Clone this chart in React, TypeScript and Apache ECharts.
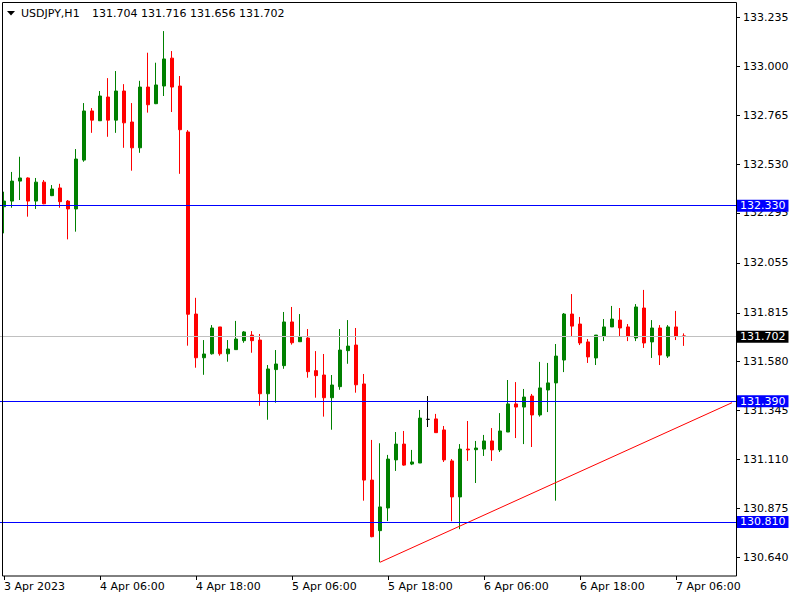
import React, { useEffect, useRef } from 'react';
import * as echarts from 'echarts';

// ---- data (USDJPY H1, first bar = 3 Apr 2023 18:00) ----
const openP = [
  132.325, 132.352, 132.448, 132.463, 132.352, 132.443, 132.378, 132.415, 132.352, 132.314,
  132.549, 132.785, 132.738, 132.852, 132.741, 132.881, 132.732, 132.608, 132.900, 132.820,
  132.905, 133.039, 132.905, 132.684, 131.809, 131.599, 131.618, 131.747, 131.618, 131.638,
  131.681, 131.708, 131.684, 131.426, 131.542, 131.561, 131.771, 131.676, 131.694, 131.537,
  131.516, 131.407, 131.460, 131.633, 131.660, 131.473, 131.011, 130.768, 130.877, 131.108,
  131.184, 131.088, 131.093, 131.303, 131.305, 131.252, 131.103, 130.930, 131.160, 131.157,
  131.160, 131.199, 131.156, 131.242, 131.377, 131.362, 131.415, 131.324, 131.444, 131.478,
  131.588, 131.809, 131.761, 131.675, 131.598, 131.703, 131.747, 131.780, 131.747, 131.694,
  131.838, 131.675, 131.742, 131.607, 131.747, 131.704,
];
const highP = [
  132.397, 132.492, 132.565, 132.466, 132.463, 132.453, 132.429, 132.435, 132.357, 132.602,
  132.823, 132.799, 132.881, 132.943, 132.977, 132.914, 132.823, 132.930, 133.065, 133.017,
  133.169, 133.073, 132.953, 132.693, 131.887, 131.684, 131.756, 131.747, 131.684, 131.776,
  131.727, 131.727, 131.713, 131.564, 131.636, 131.819, 131.843, 131.809, 131.737, 131.631,
  131.617, 131.516, 131.737, 131.780, 131.742, 131.521, 131.204, 131.188, 131.132, 131.242,
  131.247, 131.156, 131.348, 131.415, 131.329, 131.271, 131.112, 131.184, 131.295, 131.199,
  131.228, 131.261, 131.333, 131.492, 131.482, 131.449, 131.425, 131.579, 131.574, 131.665,
  131.814, 131.905, 131.795, 131.689, 131.708, 131.785, 131.848, 131.838, 131.761, 131.857,
  131.925, 131.780, 131.756, 131.756, 131.824, 131.716,
];
const lowP = [
  132.197, 132.320, 132.357, 132.277, 132.314, 132.337, 132.376, 132.320, 132.168, 132.205,
  132.541, 132.680, 132.737, 132.661, 132.680, 132.608, 132.498, 132.584, 132.777, 132.818,
  132.857, 132.780, 132.483, 131.657, 131.551, 131.517, 131.614, 131.609, 131.580, 131.638,
  131.671, 131.623, 131.368, 131.301, 131.383, 131.546, 131.662, 131.676, 131.503, 131.407,
  131.316, 131.253, 131.445, 131.570, 131.431, 130.912, 130.736, 130.616, 130.814, 131.055,
  131.080, 131.083, 131.093, 131.266, 131.239, 131.098, 130.813, 130.775, 131.103, 130.997,
  131.127, 131.103, 131.146, 131.242, 131.213, 131.184, 131.170, 131.316, 131.338, 130.912,
  131.530, 131.699, 131.660, 131.574, 131.564, 131.679, 131.747, 131.703, 131.679, 131.679,
  131.646, 131.598, 131.564, 131.598, 131.684, 131.656,
];
const closeP = [
  132.352, 132.448, 132.463, 132.352, 132.443, 132.339, 132.410, 132.349, 132.314, 132.554,
  132.785, 132.741, 132.857, 132.741, 132.881, 132.728, 132.608, 132.900, 132.815, 132.910,
  133.035, 132.900, 132.695, 131.808, 131.599, 131.617, 131.742, 131.618, 131.641, 131.689,
  131.723, 131.681, 131.426, 131.545, 131.569, 131.771, 131.671, 131.699, 131.532, 131.513,
  131.407, 131.468, 131.636, 131.655, 131.469, 131.011, 130.739, 130.882, 131.112, 131.184,
  131.083, 131.098, 131.309, 131.303, 131.239, 131.108, 130.930, 131.160, 131.156, 131.165,
  131.199, 131.156, 131.247, 131.377, 131.362, 131.410, 131.324, 131.454, 131.478, 131.607,
  131.809, 131.751, 131.670, 131.603, 131.708, 131.747, 131.785, 131.742, 131.703, 131.843,
  131.670, 131.742, 131.612, 131.747, 131.703, 131.702,
];

const slotCount = 92; // bars + empty right shift
const tickIndex = [0, 12, 24, 36, 48, 60, 72, 84];
const tickText = ['3 Apr 2023', '4 Apr 06:00', '4 Apr 18:00', '5 Apr 06:00', '5 Apr 18:00', '6 Apr 06:00', '6 Apr 18:00', '7 Apr 06:00'];
const yTicks = [133.235, 133.0, 132.765, 132.53, 132.295, 132.055, 131.815, 131.58, 131.345, 131.11, 130.875, 130.64];
const hLevels = [132.33, 131.39, 130.81];
const trendIdx = [47, 91];
const trendPrice = [130.616, 131.383];
const symbolName = 'USDJPY,H1';

const categories: string[] = [];
for (let i = 0; i < slotCount; i++) {
  const h = 18 + i;
  const day = 3 + Math.floor(h / 24);
  const hh = h % 24;
  categories.push(`${day} Apr ${hh < 10 ? '0' : ''}${hh}:00`);
}

const FONT = 'DejaVu Sans';

export default function App() {
  const ref = useRef<HTMLDivElement>(null);
  useEffect(() => {
    if (!ref.current) return;
    const chart = echarts.init(ref.current, null, { renderer: 'svg' });
    const last = openP.length - 1;
    const candleData = openP.map((o, i) => [o, closeP[i], lowP[i], highP[i]]);
    const lvlLabel = (bg: string) => ({
      show: true,
      position: 'end',
      distance: 1,
      backgroundColor: bg,
      color: '#ffffff',
      padding: [1, 3, 0, 3],
      fontSize: 11,
      fontFamily: FONT,
    });
    chart.setOption({
      animation: false,
      backgroundColor: '#ffffff',
      textStyle: { fontFamily: FONT },
      grid: { left: -1, right: 64, top: 3, bottom: 24 },
      xAxis: {
        type: 'category',
        data: categories,
        boundaryGap: true,
        axisLine: { show: false },
        axisTick: {
          show: true,
          alignWithLabel: true,
          length: 4,
          interval: (i: number) => tickIndex.includes(i),
          lineStyle: { color: '#000' },
        },
        axisLabel: {
          interval: (i: number) => tickIndex.includes(i),
          formatter: (_v: string, i: number) => {
            const k = tickIndex.indexOf(i);
            return k >= 0 ? tickText[k] : '';
          },
          align: 'left',
          margin: 5,
          color: '#000',
          fontSize: 11,
          fontFamily: FONT,
        },
        splitLine: { show: false },
      },
      yAxis: {
        type: 'value',
        position: 'right',
        min: 130.55,
        max: 133.304,
        axisLine: { show: false },
        splitLine: { show: false },
        axisTick: { show: true, length: 4, customValues: yTicks, lineStyle: { color: '#000' } },
        axisLabel: {
          customValues: yTicks,
          formatter: (v: number) => v.toFixed(3),
          color: '#000',
          fontSize: 11,
          fontFamily: FONT,
          margin: 7,
        },
      },
      series: [
        {
          type: 'candlestick',
          data: candleData,
          barWidth: 4,
          itemStyle: {
            color: '#008000',
            color0: '#ff0000',
            borderColor: '#008000',
            borderColor0: '#ff0000',
            borderColorDoji: '#000000',
            borderWidth: 1,
          },
          silent: true,
          markLine: {
            silent: true,
            symbol: ['none', 'none'],
            animation: false,
            data: [
              ...hLevels.map((v) => ({
                yAxis: v,
                lineStyle: { color: '#0000ff', width: 1, type: 'solid' },
                label: { ...lvlLabel('#0000ff'), formatter: v.toFixed(3) },
              })),
              {
                yAxis: closeP[last],
                lineStyle: { color: '#c0c0c0', width: 1, type: 'solid' },
                label: { ...lvlLabel('#000000'), formatter: closeP[last].toFixed(3) },
              },
            ],
          },
        },
        {
          type: 'line',
          data: trendIdx.map((x, i) => [x, trendPrice[i]]),
          symbol: 'none',
          silent: true,
          lineStyle: { color: '#ff0000', width: 1 },
          z: 3,
        },
      ],
      graphic: [
        {
          type: 'rect',
          z: 100,
          silent: true,
          shape: { x: 2.5, y: 2.5, width: 734, height: 573.5 },
          style: { fill: 'none', stroke: '#000', lineWidth: 1 },
        },
        {
          type: 'polygon',
          z: 100,
          silent: true,
          shape: { points: [[7, 11], [15, 11], [11, 15.5]] },
          style: { fill: '#000' },
        },
        {
          type: 'text',
          z: 100,
          silent: true,
          x: 21,
          y: 13,
          style: { text: symbolName, fill: '#000', font: `11px "${FONT}"`, verticalAlign: 'middle' },
        },
        {
          type: 'text',
          z: 100,
          silent: true,
          x: 92,
          y: 13,
          style: {
            text: [openP[last], highP[last], lowP[last], closeP[last]].map((v) => v.toFixed(3)).join(' '),
            fill: '#000',
            font: `11px "${FONT}"`,
            verticalAlign: 'middle',
          },
        },
      ],
    });
    return () => chart.dispose();
  }, []);
  return <div ref={ref} style={{ position: 'absolute', left: 0, top: 0, width: 800, height: 600 }} />;
}
